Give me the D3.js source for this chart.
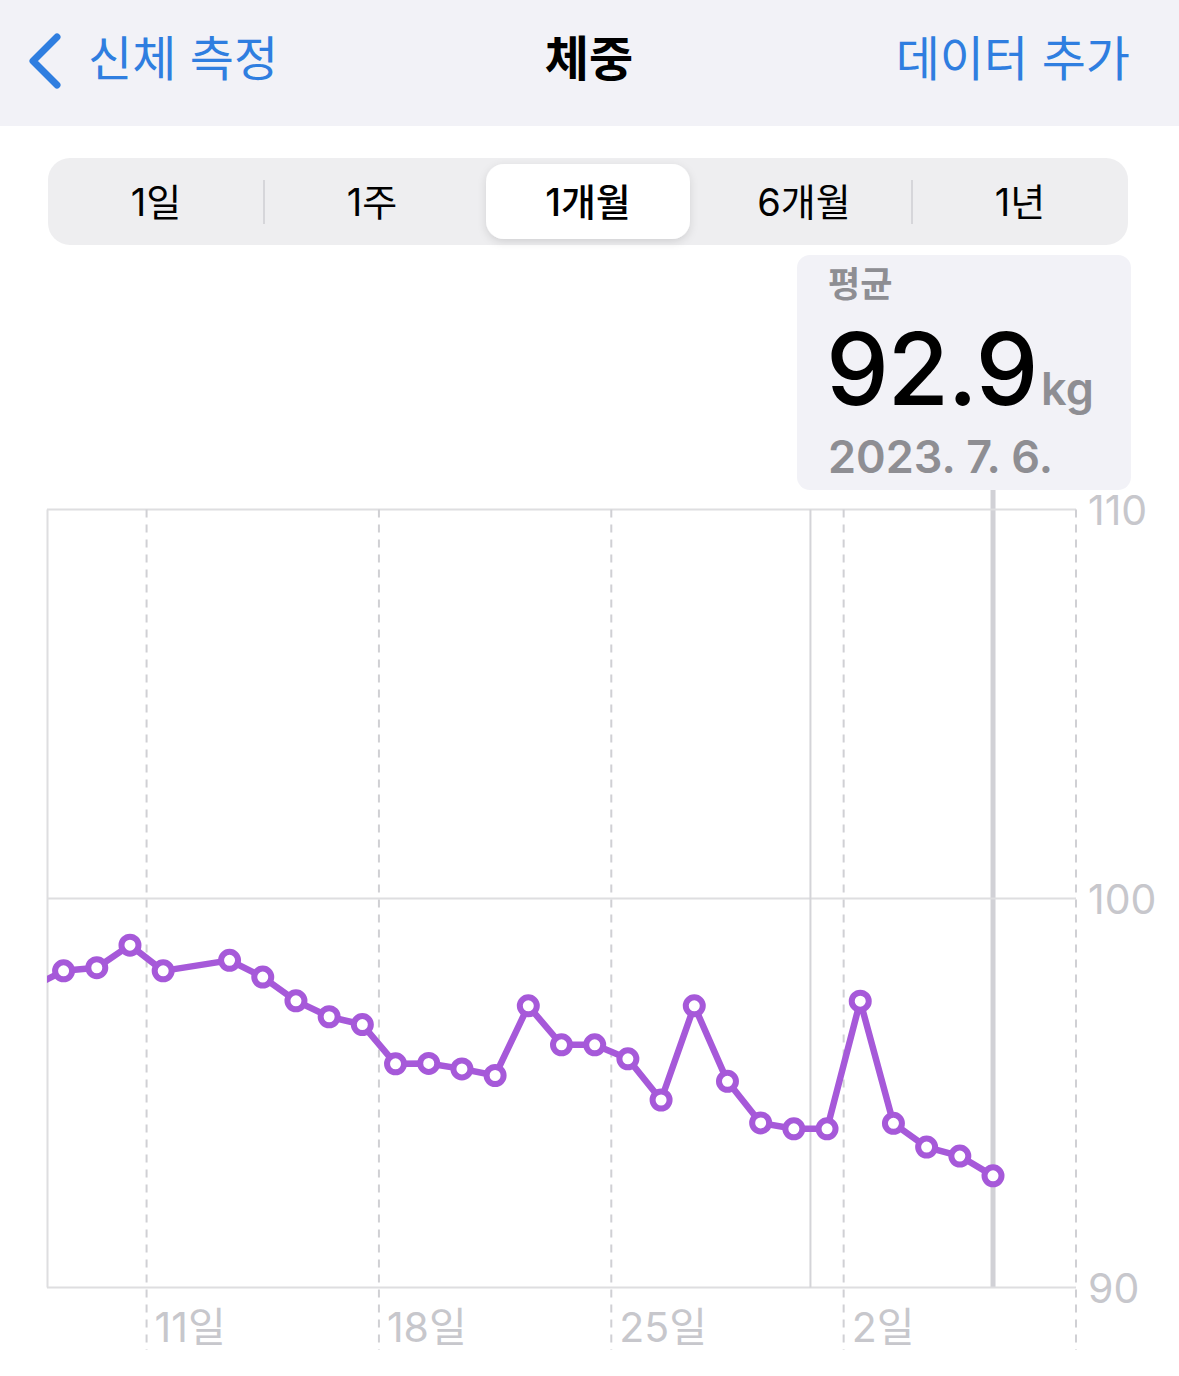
<!DOCTYPE html>
<html><head><meta charset="utf-8">
<script src="https://cdn.jsdelivr.net/npm/d3@7"></script>
<style>
html,body{margin:0;padding:0;background:#fff;}
svg{display:block;font-family:Inter,"Noto Sans CJK KR","Noto Sans",sans-serif;}
</style></head>
<body>
<svg id="c" width="1179" height="1376"></svg>
<script>
// ---- data ----
const dates = ["2023-06-07","2023-06-08","2023-06-09","2023-06-10","2023-06-11","2023-06-13","2023-06-14","2023-06-15","2023-06-16","2023-06-17","2023-06-18","2023-06-19","2023-06-20","2023-06-21","2023-06-22","2023-06-23","2023-06-24","2023-06-25","2023-06-26","2023-06-27","2023-06-28","2023-06-29","2023-06-30","2023-07-01","2023-07-02","2023-07-03","2023-07-04","2023-07-05","2023-07-06"];
const weights = [97.7,98.14,98.22,98.8,98.14,98.41,97.98,97.37,96.96,96.76,95.75,95.76,95.62,95.45,97.24,96.24,96.24,95.88,94.82,97.24,95.30,94.23,94.08,94.08,97.36,94.22,93.61,93.38,92.87];
const yTicks = [90,100,110];
const xTickDates = ["2023-06-11","2023-06-18","2023-06-25","2023-07-02"];
const xTickLabels = ["11일","18일","25일","2일"];
const monthStart = "2023-07-01";
const periods = ["1일","1주","1개월","6개월","1년"];
const selectedPeriod = "1개월";
const selectedDate = "2023-07-06";
const avgLabel = "평균", avgValue = "92.9", avgUnit = "kg", avgDate = "2023. 7. 6.";
const navBack = "신체 측정", navTitle = "체중", navAction = "데이터 추가";

const svg = d3.select("#c");
const parse = d3.timeParse("%Y-%m-%d");
const noon = d => d3.timeHour.offset(parse(d), 12);

// ---- header ----
svg.append("rect").attr("x",0).attr("y",0).attr("width",1179).attr("height",126).attr("fill","#f2f2f7");
svg.append("path").attr("d","M57,37 L33,61 L57,85").attr("fill","none").attr("stroke","#2f7ee0")
  .attr("stroke-width",7).attr("stroke-linecap","round").attr("stroke-linejoin","round");
svg.append("text").attr("x",88).attr("y",76).attr("font-size",48).attr("fill","#2f7ee0").text(navBack);
svg.append("text").attr("x",589).attr("y",76).attr("text-anchor","middle").attr("font-size",48)
  .attr("font-weight",700).attr("fill","#000").text(navTitle);
svg.append("text").attr("x",1130).attr("y",76).attr("text-anchor","end").attr("font-size",48).attr("fill","#2f7ee0").text(navAction);

// ---- segmented control ----
const seg = d3.scaleBand().domain(periods).range([48,1128]).paddingInner(0);
svg.append("rect").attr("x",48).attr("y",158).attr("width",1080).attr("height",87).attr("rx",22).attr("fill","#eeeef0");
const defs = svg.append("defs");
const f = defs.append("filter").attr("id","sh").attr("x","-20%").attr("y","-30%").attr("width","140%").attr("height","160%");
f.append("feDropShadow").attr("dx",0).attr("dy",3).attr("stdDeviation",4).attr("flood-color","#000").attr("flood-opacity",0.12);
svg.append("rect").attr("x",seg(selectedPeriod)+6).attr("y",164).attr("width",seg.bandwidth()-12).attr("height",75)
  .attr("rx",18).attr("fill","#fff").attr("filter","url(#sh)");
[periods[1], periods[4]].forEach(p=>{
  svg.append("line").attr("x1",seg(p)).attr("x2",seg(p)).attr("y1",180).attr("y2",224).attr("stroke","#d6d6da").attr("stroke-width",2);
});
svg.selectAll("text.seg").data(periods).join("text").attr("class","seg")
  .attr("x",d=>seg(d)+seg.bandwidth()/2).attr("y",216).attr("text-anchor","middle")
  .attr("font-size",38).attr("fill","#000").attr("font-weight",d=>d===selectedPeriod?500:400).text(d=>d);

// ---- scales ----
const x = d3.scaleTime().domain([parse("2023-06-08"), parse("2023-07-09")]).range([47,1076]);
const y = d3.scaleLinear().domain([90,110]).range([1287.5,509.5]);

// ---- selection line ----
svg.append("line").attr("x1",x(noon(selectedDate))).attr("x2",x(noon(selectedDate))).attr("y1",488).attr("y2",y(90))
  .attr("stroke","#d1d1d6").attr("stroke-width",5);

// ---- average box ----
svg.append("rect").attr("x",797).attr("y",255).attr("width",334).attr("height",235).attr("rx",13).attr("fill","#f2f2f7");
svg.append("text").attr("x",828).attr("y",297).attr("font-size",35).attr("font-weight",700).attr("fill","#8e8e93").text(avgLabel);
const big = svg.append("text").attr("x",826).attr("y",405);
big.append("tspan").attr("font-size",100).attr("font-weight",500).attr("fill","#000").attr("letter-spacing",-1.5).text(avgValue);
big.append("tspan").attr("dx",4).attr("font-size",45).attr("font-weight",600).attr("fill","#8e8e93").attr("letter-spacing",0).text(avgUnit);
svg.append("text").attr("x",828).attr("y",473).attr("font-size",45).attr("font-weight",600).attr("fill","#8e8e93").text(avgDate);

// ---- grid ----
const g = svg.append("g");
yTicks.forEach(t=>{
  g.append("line").attr("x1",47).attr("x2",1076).attr("y1",y(t)).attr("y2",y(t)).attr("stroke","#dedee0").attr("stroke-width",2);
});
g.append("line").attr("x1",47.5).attr("x2",47.5).attr("y1",y(110)).attr("y2",y(90)).attr("stroke","#dedee0").attr("stroke-width",2);
g.append("line").attr("x1",x(parse(monthStart))).attr("x2",x(parse(monthStart))).attr("y1",y(110)).attr("y2",y(90)).attr("stroke","#d4d4d8").attr("stroke-width",2);
const dashedAt = xTickDates.map(parse).concat([parse("2023-07-09")]);
dashedAt.forEach(d=>{
  g.append("line").attr("x1",x(d)).attr("x2",x(d)).attr("y1",y(110)).attr("y2",1350)
    .attr("stroke","#d0d0d4").attr("stroke-width",2).attr("stroke-dasharray","8,7");
});

// y labels
svg.selectAll("text.yl").data(yTicks).join("text").attr("class","yl")
  .attr("x",1088).attr("y",d=>y(d)+15).attr("font-size",41).attr("fill","#c7c7cc").text(d=>d);
// x labels
svg.selectAll("text.xl").data(xTickDates).join("text").attr("class","xl")
  .attr("x",d=>x(parse(d))+8).attr("y",1342).attr("font-size",41).attr("fill","#c7c7cc").text((d,i)=>xTickLabels[i]);

// ---- series ----
const data = dates.map((d,i)=>({t:noon(d), v:weights[i]}));
const clip = defs.append("clipPath").attr("id","pc");
clip.append("rect").attr("x",47).attr("y",400).attr("width",1100).attr("height",1000);
const line = d3.line().x(d=>x(d.t)).y(d=>y(d.v));
const color = "#a659d9";
const s = svg.append("g").attr("clip-path","url(#pc)");
s.append("path").datum(data).attr("d",line).attr("fill","none").attr("stroke",color).attr("stroke-width",6.5).attr("stroke-linejoin","round");
s.selectAll("circle").data(data).join("circle").attr("cx",d=>x(d.t)).attr("cy",d=>y(d.v)).attr("r",8.5)
  .attr("fill","#fff").attr("stroke",color).attr("stroke-width",6);
</script>
</body></html>
